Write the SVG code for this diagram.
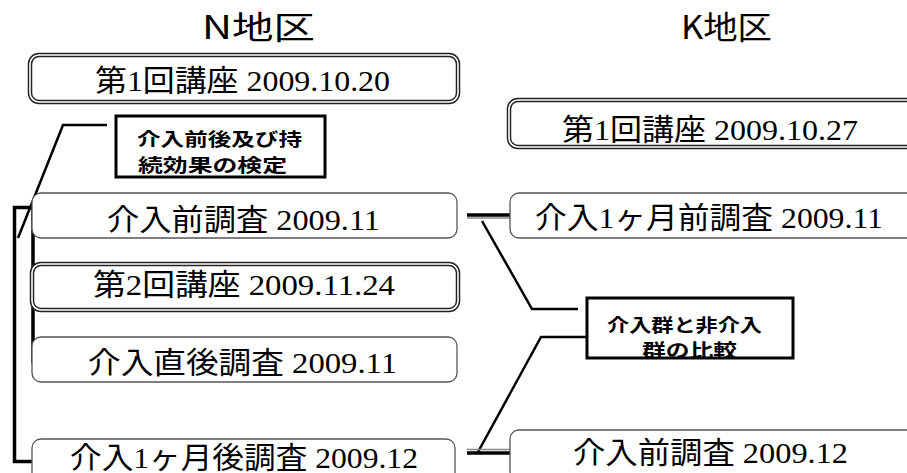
<svg xmlns="http://www.w3.org/2000/svg" width="907" height="473" viewBox="0 0 907 473">
<defs>
<style>
.title{font-family:"Noto Sans CJK JP","Liberation Sans",sans-serif;font-size:32px;fill:#000}
.bt{font-family:"Liberation Serif","Noto Sans CJK JP",serif;font-size:30px;fill:#000;text-anchor:middle}
.note{font-family:"Noto Sans CJK JP","Liberation Sans",sans-serif;font-size:18px;font-weight:bold;fill:#000}
.single{fill:#fff;stroke:#555;stroke-width:1.3}
.dblo{fill:#fff;stroke:#222;stroke-width:4.5}
.dbli{fill:none;stroke:#fff;stroke-width:1.6}
.nbox{fill:#fff;stroke:#000;stroke-width:3}
.ln{fill:none;stroke:#000;stroke-width:2.5}
.br{fill:none;stroke:#000;stroke-width:3.5}
.gr{fill:none;stroke:#888;stroke-width:1.6}
</style>
</defs>
<g id="titles">
<text class="title" x="202" y="39" textLength="113" lengthAdjust="spacingAndGlyphs">N地区</text>
<text class="title" x="681" y="39" textLength="91" lengthAdjust="spacingAndGlyphs">K地区</text>
</g>
<g id="connectors">
<path class="br" d="M53,207.5 H14.5 V461.5 H53"/>
<path class="br" d="M53,219 H33 V207.5 M33,207.5 V361.5 H53"/>
<path class="ln" d="M107,125 H63 L18,238"/>
<line class="br" x1="467" y1="215" x2="510" y2="215"/>
<line class="gr" x1="467" y1="218" x2="510" y2="218"/>
<path class="ln" d="M482,221 L532,309 H578"/>
<path class="ln" d="M587,337 H541 L478,452"/>
<line class="gr" x1="467" y1="449.5" x2="510" y2="449.5"/>
<line class="br" x1="467" y1="453" x2="510" y2="453"/>
</g>
<g id="n-lecture1">
<rect class="dblo" x="30" y="55" width="428" height="47" rx="9"/>
<rect class="dbli" x="30" y="55" width="428" height="47" rx="9"/>
<text class="bt" x="242.5" y="91" textLength="295" lengthAdjust="spacingAndGlyphs">第1回講座 2009.10.20</text>
</g>
<g id="note-test">
<rect class="nbox" x="116" y="116" width="209" height="61"/>
<text class="note" x="137" y="146" textLength="165" lengthAdjust="spacingAndGlyphs">介入前後及び持</text>
<text class="note" x="138" y="172" textLength="149" lengthAdjust="spacingAndGlyphs">続効果の検定</text>
</g>
<g id="n-pre">
<rect class="single" x="32" y="193" width="425" height="45" rx="9"/>
<text class="bt" x="243.5" y="230" textLength="273" lengthAdjust="spacingAndGlyphs">介入前調査 2009.11</text>
</g>
<g id="n-lecture2">
<rect class="dblo" x="32" y="264" width="426" height="46" rx="9"/>
<rect class="dbli" x="32" y="264" width="426" height="46" rx="9"/>
<text class="bt" x="244" y="295" textLength="302" lengthAdjust="spacingAndGlyphs">第2回講座 2009.11.24</text>
</g>
<g id="n-post">
<rect class="single" x="32" y="337" width="425" height="45" rx="9"/>
<text class="bt" x="242.5" y="373" textLength="309" lengthAdjust="spacingAndGlyphs">介入直後調査 2009.11</text>
</g>
<g id="n-1m">
<rect class="single" x="32" y="439" width="423" height="46" rx="9"/>
<text class="bt" x="244" y="468" textLength="348" lengthAdjust="spacingAndGlyphs">介入1ヶ月後調査 2009.12</text>
</g>
<g id="k-lecture1">
<rect class="dblo" x="509" y="100" width="410" height="47" rx="9"/>
<rect class="dbli" x="509" y="100" width="410" height="47" rx="9"/>
<text class="bt" x="710" y="140" textLength="296" lengthAdjust="spacingAndGlyphs">第1回講座 2009.10.27</text>
</g>
<g id="k-pre1m">
<rect class="single" x="510" y="193" width="410" height="45" rx="9"/>
<text class="bt" x="709" y="228" textLength="348" lengthAdjust="spacingAndGlyphs">介入1ヶ月前調査 2009.11</text>
</g>
<g id="note-compare">
<rect class="nbox" x="587" y="298" width="206" height="60"/>
<text class="note" x="607" y="332" textLength="155" lengthAdjust="spacingAndGlyphs">介入群と非介入</text>
<text class="note" x="642" y="357" textLength="95" lengthAdjust="spacingAndGlyphs">群の比較</text>
</g>
<g id="k-pre">
<rect class="single" x="510" y="430" width="410" height="50" rx="9"/>
<text class="bt" x="710.5" y="463" textLength="275" lengthAdjust="spacingAndGlyphs">介入前調査 2009.12</text>
</g>
</svg>
